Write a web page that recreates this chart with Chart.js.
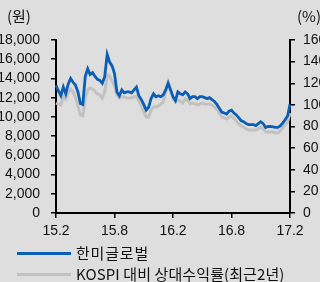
<!DOCTYPE html>
<html>
<head>
<meta charset="utf-8">
<script src="https://cdn.jsdelivr.net/npm/chart.js@4/dist/chart.umd.min.js"></script>
<style>
  body { margin: 0; background: #dedede; }
  #wrap { position: relative; width: 320px; height: 282px; background: #dedede; overflow: hidden; }
  #chart1 { position: absolute; left: 0; top: 0; }
  .unit { position: absolute; top: 5px; font: 15px "Noto Sans CJK KR", sans-serif; color: #111; }
  .leg { position: absolute; left: 17px; width: 54px; height: 3px; }
  .legTxt { position: absolute; left: 76px; font: 15px "Noto Sans CJK KR", sans-serif; color: #111; letter-spacing: 0.1px; }
</style>
</head>
<body>
<div id="wrap">
  <canvas id="chart1" width="320" height="282"></canvas>
  <div class="unit" style="left:7px">(원)</div>
  <div class="unit" style="left:297px">(%)</div>
  <div class="leg" style="top:252px;background:#0a5fb4"></div>
  <div class="legTxt" style="top:242px;letter-spacing:0.8px">한미글로벌</div>
  <div class="leg" style="top:273px;background:#c2c2c2"></div>
  <div class="legTxt" style="top:263px">KOSPI 대비 상대수익률(최근2년)</div>
</div>
<script>
// tick labels on the x axis, one every 6 months (24 weekly steps)
var tickLabels = ["15.2", "15.8", "16.2", "16.8", "17.2"];
var weeksPerTick = 24;

// 한미글로벌 share price (원), weekly
var priceWon = [
    13300, 12700, 12200, 13100, 12400, 13400, 14000, 13600, 13300, 12600,
    11400, 11300, 14200, 15000, 14400, 14600, 14200, 13900, 13800, 13500,
    14200, 16500, 15700, 15300, 14500, 12600, 12200, 12800, 12500, 12600,
    12600, 12500, 12800, 13100, 12200, 11800, 11300, 10700, 11000, 11900,
    12400, 12100, 12200, 12100, 12300, 12800, 13500, 12800, 12100, 11700,
    12600, 12400, 12300, 12600, 12400, 11900, 12100, 12100, 11900, 12100,
    12100, 12000, 11900, 12000, 11800, 11600, 11300, 10900, 10500, 10400,
    10300, 10600, 10700, 10400, 10200, 9900, 9600, 9500, 9300, 9200,
    9200, 9200, 9100, 9300, 9500, 9300, 8900, 9000, 9000, 8950,
    8900, 8900, 9050, 9350, 9700, 10100, 11300
];

// KOSPI 대비 상대수익률 (%), weekly
var relReturn = [
    101.7, 100.8, 99.9, 108.2, 105.5, 111.0, 114.7, 111.9, 107.3, 99.0,
    90.6, 89.7, 106.4, 113.8, 115.6, 114.7, 112.8, 110.0, 109.1, 106.4,
    111.9, 127.6, 126.7, 122.0, 117.5, 109.0, 106.4, 107.3, 107.3, 106.4,
    106.4, 106.4, 107.3, 108.2, 103.6, 99.9, 93.4, 88.8, 88.8, 95.3,
    98.0, 98.0, 99.0, 100.8, 102.7, 111.9, 121.2, 114.7, 105.5, 102.7,
    104.5, 103.6, 101.7, 105.5, 104.5, 100.8, 101.7, 100.8, 99.9, 100.8,
    101.7, 100.8, 100.8, 100.8, 99.9, 98.0, 96.2, 92.5, 88.8, 87.9,
    87.0, 88.8, 89.7, 87.9, 85.1, 82.3, 80.5, 79.5, 77.7, 76.8,
    76.8, 76.8, 76.8, 77.7, 79.5, 77.7, 74.9, 74.9, 74.9, 74.9,
    74.0, 74.0, 75.8, 78.6, 81.4, 84.2, 92.5
];

var tickFont = { family: "'Liberation Sans Narrow', 'Liberation Sans', Arial", size: 14 };

// one label per week, only the 6-month marks carry text
var weekLabels = [];
priceWon.forEach(function (v, i) {
    weekLabels.push(i % weeksPerTick === 0 ? tickLabels[i / weeksPerTick] : "");
});

var ctx = document.getElementById("chart1");
var chart = new Chart(ctx, {
    type: 'line',
    data: {
        labels: weekLabels,
        datasets: [
            {
                label: '한미글로벌',
                data: priceWon,
                yAxisID: 'y',
                borderColor: '#0a5fb4',
                borderWidth: 2.8,
                pointRadius: 0,
                tension: 0,
                order: 0
            },
            {
                label: 'KOSPI 대비 상대수익률(최근2년)',
                data: relReturn,
                yAxisID: 'y1',
                borderColor: '#c2c2c2',
                borderWidth: 3,
                pointRadius: 0,
                tension: 0,
                order: 1
            }
        ]
    },
    options: {
        responsive: false,
        animation: false,
        layout: { padding: { top: 40, left: 0, right: 0, bottom: 0 } },
        plugins: { legend: { display: false }, tooltip: { enabled: false } },
        scales: {
            x: {
                type: 'category',
                offset: false,
                border: { color: '#000', width: 2 },
                grid: { drawOnChartArea: false, tickLength: 5, color: '#000', lineWidth: 1.5 },
                ticks: {
                    autoSkip: false, maxRotation: 0, color: '#111', font: tickFont, padding: 5,
                    callback: function (v, i) { return weekLabels[i] || null; }
                },
                afterFit: function (scale) { scale.height = 69; }
            },
            y: {
                position: 'left',
                min: 0, max: 18000,
                border: { color: '#000', width: 2 },
                grid: { drawOnChartArea: false, tickLength: 5, color: '#000', lineWidth: 1.5 },
                ticks: {
                    autoSkip: false, stepSize: 2000, color: '#111', font: tickFont, padding: 11,
                    callback: function (v) { return v.toLocaleString('en-US'); }
                },
                afterFit: function (scale) { scale.width = 56; }
            },
            y1: {
                position: 'right',
                min: 0, max: 160,
                border: { color: '#000', width: 2 },
                grid: { drawOnChartArea: false, tickLength: 5, color: '#000', lineWidth: 1.5 },
                ticks: { autoSkip: false, stepSize: 20, color: '#111', font: tickFont, padding: 8 },
                afterFit: function (scale) { scale.width = 30; }
            }
        }
    }
});
</script>
</body>
</html>
